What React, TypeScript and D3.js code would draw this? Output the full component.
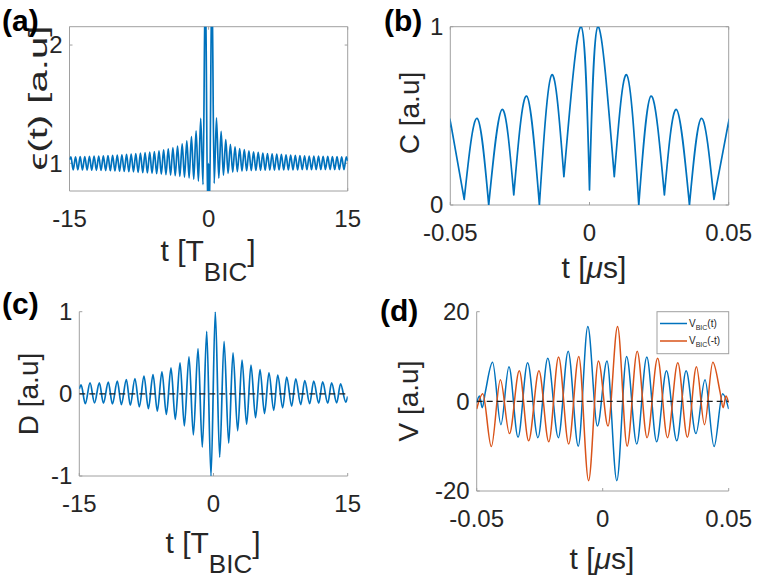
import React from "react";
import * as d3 from "d3";

type Pt = [number, number];

// ---------------------------------------------------------------------------
// data (peaks / troughs of each trace)

// (a) eps(t): alternating peaks and troughs, two spikes around t = 0
const epsilon: Pt[] = [
  [-15, 1.03],
  [-14.85, 1.055], [-14.6, 0.945], [-14.35, 1.055], [-14.1, 0.945],
  [-13.85, 1.056], [-13.6, 0.944], [-13.35, 1.057], [-13.1, 0.943],
  [-12.85, 1.058], [-12.6, 0.942], [-12.35, 1.06], [-12.1, 0.941],
  [-11.85, 1.061], [-11.6, 0.94], [-11.35, 1.063], [-11.1, 0.939],
  [-10.85, 1.065], [-10.6, 0.937], [-10.35, 1.067], [-10.1, 0.935],
  [-9.85, 1.07], [-9.6, 0.933], [-9.35, 1.072], [-9.1, 0.931],
  [-8.85, 1.075], [-8.6, 0.929], [-8.35, 1.078], [-8.1, 0.927],
  [-7.85, 1.082], [-7.6, 0.924], [-7.35, 1.086], [-7.1, 0.921],
  [-6.85, 1.09], [-6.6, 0.918], [-6.35, 1.095], [-6.1, 0.915],
  [-5.85, 1.1], [-5.6, 0.912], [-5.35, 1.106], [-5.1, 0.908],
  [-4.85, 1.113], [-4.6, 0.904], [-4.35, 1.122], [-4.1, 0.9],
  [-3.85, 1.132], [-3.6, 0.895], [-3.35, 1.145], [-3.1, 0.89],
  [-2.85, 1.165], [-2.6, 0.884], [-2.35, 1.19], [-2.1, 0.876],
  [-1.85, 1.225], [-1.6, 0.866], [-1.35, 1.275], [-1.1, 0.85],
  [-0.85, 1.38], [-0.6, 0.82],
  [-0.35, 2.6], [-0.1, 0.6], [0, 1.0], [0.1, 0.6], [0.35, 2.6],
  [0.6, 0.83], [0.85, 1.385], [1.1, 0.875], [1.35, 1.27],
  [1.6, 0.9], [1.85, 1.2], [2.1, 0.915], [2.35, 1.16],
  [2.6, 0.925], [2.85, 1.14], [3.1, 0.93], [3.35, 1.125],
  [3.6, 0.934], [3.85, 1.115], [4.1, 0.937], [4.35, 1.105],
  [4.6, 0.939], [4.85, 1.098], [5.1, 0.94], [5.35, 1.092],
  [5.6, 0.941], [5.85, 1.087], [6.1, 0.942], [6.35, 1.083],
  [6.6, 0.943], [6.85, 1.08], [7.1, 0.943], [7.35, 1.077],
  [7.6, 0.944], [7.85, 1.075], [8.1, 0.944], [8.35, 1.072],
  [8.6, 0.945], [8.85, 1.07], [9.1, 0.945], [9.35, 1.068],
  [9.6, 0.945], [9.85, 1.066], [10.1, 0.946], [10.35, 1.064],
  [10.6, 0.946], [10.85, 1.062], [11.1, 0.946], [11.35, 1.061],
  [11.6, 0.946], [11.85, 1.06], [12.1, 0.947], [12.35, 1.059],
  [12.6, 0.947], [12.85, 1.058], [13.1, 0.947], [13.35, 1.057],
  [13.6, 0.947], [13.85, 1.056], [14.1, 0.947], [14.35, 1.055],
  [14.6, 0.947], [14.85, 1.055],
  [15, 1.02],
];

// (b) C: lobe tops and the dips between them (ends of the range included in dips)
const cTops: Pt[] = [
  [-0.0497, 0.445], [-0.0404, 0.486], [-0.0314, 0.536], [-0.0226, 0.611],
  [-0.0136, 0.729], [-0.0030, 1.0], [0.0030, 1.0], [0.0134, 0.729],
  [0.0221, 0.611], [0.0312, 0.536], [0.0402, 0.486], [0.0497, 0.445],
];
const cDips: Pt[] = [
  [-0.05, 0.44], [-0.045, 0.032], [-0.0362, 0.0], [-0.0272, 0.056],
  [-0.018, 0.0], [-0.0092, 0.159], [0, 0.084], [0.0089, 0.159],
  [0.0177, 0.0], [0.0269, 0.056], [0.0359, 0.0], [0.0447, 0.032],
  [0.05, 0.44],
];

// (c) D
const dispD: Pt[] = [
  [-15, 0.06], [-14.8, 0.11], [-14.33, -0.12], [-13.8, 0.134], [-13.3, -0.11],
  [-12.76, 0.134], [-12.3, -0.114], [-11.76, 0.142], [-11.3, -0.122],
  [-10.75, 0.154], [-10.3, -0.13], [-9.74, 0.174], [-9.3, -0.138],
  [-8.78, 0.187], [-8.29, -0.158], [-7.77, 0.215], [-7.28, -0.18],
  [-6.76, 0.235], [-6.28, -0.21], [-5.76, 0.268], [-5.27, -0.25],
  [-4.75, 0.316], [-4.27, -0.31], [-3.74, 0.377], [-3.26, -0.39],
  [-2.74, 0.45], [-2.25, -0.5], [-1.73, 0.55], [-1.25, -0.65],
  [-0.76, 0.76], [-0.28, -1.0], [0.2, 1.0], [0.69, -0.77],
  [1.18, 0.64], [1.7, -0.6], [2.18, 0.5], [2.7, -0.45],
  [3.19, 0.41], [3.7, -0.37], [4.19, 0.35], [4.7, -0.29],
  [5.2, 0.296], [5.7, -0.24], [6.2, 0.256], [6.73, -0.2],
  [7.18, 0.227], [7.73, -0.17], [8.18, 0.203], [8.74, -0.15],
  [9.19, 0.183], [9.75, -0.13], [10.2, 0.162], [10.75, -0.12],
  [11.2, 0.154], [11.76, -0.114], [12.2, 0.146], [12.77, -0.114],
  [13.2, 0.134], [13.77, -0.11], [14.2, 0.122], [14.78, -0.1],
  [15, -0.03],
];

// (d) V_BIC(t); the second trace is the same record with time reversed
const vbic: Pt[] = [
  [-0.05, -0.3], [-0.0489, 1.2], [-0.0478, -1.4], [-0.0466, 2.0],
  [-0.0437, 8.7], [-0.0404, -5.2], [-0.0372, 7.7], [-0.0336, -8.0],
  [-0.0298, 8.6], [-0.0257, -8.1], [-0.0218, 9.6], [-0.0176, -8.1],
  [-0.0137, 11.2], [-0.0097, -10.0], [-0.0059, 16.7], [-0.0021, -5.5],
  [0.0017, 9.0], [0.0056, -17.7], [0.0095, 10.0], [0.0135, -9.5],
  [0.0175, 9.9], [0.0214, -9.0], [0.0253, 6.8], [0.0294, -8.8],
  [0.0331, 6.8], [0.037, -7.2], [0.0406, 4.8], [0.0442, -10.1],
  [0.0476, 1.7], [0.05, -1.7],
];
const vbicRev: Pt[] = vbic.map(([t, v]) => [-t, v] as Pt).reverse();

const tbicTicks = [-15, 0, 15];
const tbicTickLabels = ["-15", "0", "15"];
const usTicks = [-0.05, 0, 0.05];
const usTickLabels = ["-0.05", "0", "0.05"];
const epsTicks = [1, 2];
const epsTickLabels = ["1", "2"];
const cTicks = [0, 1];
const cTickLabels = ["0", "1"];
const dTicks = [-1, 0, 1];
const dTickLabels = ["-1", "0", "1"];
const vTicks = [-20, 0, 20];
const vTickLabels = ["-20", "0", "20"];
const legendArgs = ["(t)", "(-t)"];

// ---------------------------------------------------------------------------

const FONT = "'Liberation Sans', Arial, Helvetica, sans-serif";
const BLUE = "#0072BD";
const ORANGE = "#D95319";
const AXIS = "#a0a0a0";
const INK = "#262626";
const TICK_FS = 24;
const LABEL_FS = 30;

type Scale = d3.ScaleLinear<number, number>;

type PanelProps = {
  id: string;
  frame: {x0: number; x1: number; y0: number; y1: number};
  xDomain: [number, number];
  yDomain: [number, number];
  xTicks: number[];
  xTickLabels: string[];
  yTicks: number[];
  yTickLabels: string[];
  box: boolean;
  tag: string;
  tagPos: [number, number];
  xLabel: React.ReactNode;
  xLabelPos: [number, number];
  yLabel: React.ReactNode;
  yLabelPos: [number, number];
  draw: (x: Scale, y: Scale) => React.ReactNode;
  extra?: React.ReactNode;
};

function Panel(p: PanelProps) {
  const {x0, x1, y0, y1} = p.frame;
  const x = d3.scaleLinear().domain(p.xDomain).range([x0, x1]);
  const y = d3.scaleLinear().domain(p.yDomain).range([y1, y0]);
  const tk = 3;
  return (
    <g>
      <defs>
        <clipPath id={p.id}>
          <rect x={x0} y={y0} width={x1 - x0} height={y1 - y0}/>
        </clipPath>
      </defs>
      {/* axes */}
      <g stroke={AXIS} strokeWidth={1} fill="none">
        <line x1={x0} x2={x1} y1={y1} y2={y1}/>
        <line x1={x0} x2={x0} y1={y0} y2={y1}/>
        {p.box && <line x1={x0} x2={x1} y1={y0} y2={y0}/>}
        {p.box && <line x1={x1} x2={x1} y1={y0} y2={y1}/>}
        {p.xTicks.map(t => (
          <g key={"xt" + t}>
            <line x1={x(t)} x2={x(t)} y1={y1} y2={y1 - tk}/>
            {p.box && <line x1={x(t)} x2={x(t)} y1={y0} y2={y0 + tk}/>}
          </g>
        ))}
        {p.yTicks.map(t => (
          <g key={"yt" + t}>
            <line x1={x0} x2={x0 + tk} y1={y(t)} y2={y(t)}/>
            {p.box && <line x1={x1} x2={x1 - tk} y1={y(t)} y2={y(t)}/>}
          </g>
        ))}
      </g>
      {/* data */}
      <g clipPath={`url(#${p.id})`}>{p.draw(x, y)}</g>
      {/* tick labels */}
      <g fontFamily={FONT} fontSize={TICK_FS} fill={INK}>
        {p.xTicks.map((t, i) => (
          <text key={"xl" + t} x={x(t)} y={y1 + 36} textAnchor="middle">{p.xTickLabels[i]}</text>
        ))}
        {p.yTicks.map((t, i) => (
          <text key={"yl" + t} x={x0 - 7} y={y(t)} dy="0.35em" textAnchor="end">{p.yTickLabels[i]}</text>
        ))}
      </g>
      {/* axis labels */}
      <text x={p.xLabelPos[0]} y={p.xLabelPos[1]} textAnchor="middle"
        fontFamily={FONT} fontSize={LABEL_FS} fill={INK}>{p.xLabel}</text>
      <g transform={`translate(${p.yLabelPos[0]},${p.yLabelPos[1]}) rotate(-90)`}>
        {p.yLabel}
      </g>
      <text x={p.tagPos[0]} y={p.tagPos[1]} fontFamily={FONT} fontSize={30}
        fontWeight="bold" fill="#000">{p.tag}</text>
      {p.extra}
    </g>
  );
}

const tbicLabel = (
  <>t [T<tspan fontSize={26} dy={20}>BIC</tspan><tspan dy={-20}>]</tspan></>
);
const usLabel = (
  <>t [<tspan fontStyle="italic">μ</tspan>s]</>
);
const yText = (s: string, extra: any = {}) => (
  <text x={0} y={0} dy="0.35em" textAnchor="middle" fontFamily={FONT}
    fontSize={28} fill={INK} {...extra}>{s}</text>
);

function tracePath(pts: Pt[], x: Scale, y: Scale, curve: d3.CurveFactory) {
  return d3.line<Pt>().x(d => x(d[0])).y(d => y(d[1])).curve(curve)(pts) || "";
}

export default function App() {
  return (
    <svg width={762} height={582} viewBox="0 0 762 582"
      style={{position: "absolute", left: 0, top: 0, background: "#fff"}}>
      <rect x={0} y={0} width={762} height={582} fill="#fff"/>

      {/* (a) */}
      <Panel
        id="clip-a"
        frame={{x0: 69.5, x1: 347.7, y0: 26.7, y1: 191}}
        xDomain={[-15, 15]} yDomain={[0.766, 2.155]}
        xTicks={tbicTicks} xTickLabels={tbicTickLabels}
        yTicks={epsTicks} yTickLabels={epsTickLabels}
        box={true}
        tag="(a)" tagPos={[2, 31]}
        xLabel={tbicLabel} xLabelPos={[208, 261]}
        yLabel={yText("ϵ(t) [a.u]", {textLength: 145, lengthAdjust: "spacingAndGlyphs", fontSize: 26})}
        yLabelPos={[38, 98]}
        draw={(x, y) => (
          <path d={tracePath(epsilon, x, y, d3.curveMonotoneX)} fill="none"
            stroke={BLUE} strokeWidth={1.7}/>
        )}
      />

      {/* (b) */}
      <Panel
        id="clip-b"
        frame={{x0: 450.3, x1: 728.7, y0: 26.7, y1: 205}}
        xDomain={[-0.05, 0.05]} yDomain={[0, 1]}
        xTicks={usTicks} xTickLabels={usTickLabels}
        yTicks={cTicks} yTickLabels={cTickLabels}
        box={true}
        tag="(b)" tagPos={[384, 31]}
        xLabel={usLabel} xLabelPos={[594, 278]}
        yLabel={yText("C [a.u]")}
        yLabelPos={[409, 113]}
        draw={(x, y) => {
          const lobe = d3.line<Pt>().x(d => x(d[0])).y(d => y(d[1])).curve(d3.curveNatural);
          const d = cTops.map((top, i) => lobe([cDips[i], top, cDips[i + 1]])).join("");
          return <path d={d} fill="none" stroke={BLUE} strokeWidth={1.7} strokeLinecap="round"/>;
        }}
      />

      {/* (c) */}
      <Panel
        id="clip-c"
        frame={{x0: 79.3, x1: 347.7, y0: 311.7, y1: 476}}
        xDomain={[-15, 15]} yDomain={[-1, 1]}
        xTicks={tbicTicks} xTickLabels={tbicTickLabels}
        yTicks={dTicks} yTickLabels={dTickLabels}
        box={false}
        tag="(c)" tagPos={[2, 314]}
        xLabel={tbicLabel} xLabelPos={[213, 553]}
        yLabel={yText("D [a.u]")}
        yLabelPos={[28, 394]}
        draw={(x, y) => (
          <g>
            <path d={tracePath(dispD, x, y, d3.curveMonotoneX)} fill="none"
              stroke={BLUE} strokeWidth={1.7}/>
            <line x1={x(-15)} x2={x(15)} y1={y(0)} y2={y(0)} stroke="#1a1a1a"
              strokeWidth={1.4} strokeDasharray="6 4"/>
          </g>
        )}
      />

      {/* (d) */}
      <Panel
        id="clip-d"
        frame={{x0: 476.7, x1: 728.7, y0: 311.7, y1: 491}}
        xDomain={[-0.05, 0.05]} yDomain={[-20, 20]}
        xTicks={usTicks} xTickLabels={usTickLabels}
        yTicks={vTicks} yTickLabels={vTickLabels}
        box={false}
        tag="(d)" tagPos={[380, 321]}
        xLabel={usLabel} xLabelPos={[602, 569]}
        yLabel={yText("V [a.u]")}
        yLabelPos={[408, 401]}
        draw={(x, y) => (
          <g>
            <path d={tracePath(vbic, x, y, d3.curveMonotoneX)} fill="none"
              stroke={BLUE} strokeWidth={1.5}/>
            <path d={tracePath(vbicRev, x, y, d3.curveMonotoneX)} fill="none"
              stroke={ORANGE} strokeWidth={1.5}/>
            <line x1={x(-0.05)} x2={x(0.05)} y1={y(0)} y2={y(0)} stroke="#1a1a1a"
              strokeWidth={1.4} strokeDasharray="6 4"/>
          </g>
        )}
        extra={
          <g fontFamily={FONT} fill={INK}>
            <rect x={657} y={311.7} width={71.7} height={42} fill="#fff" stroke={AXIS}/>
            {legendArgs.map((arg, i) => (
              <g key={arg} transform={`translate(660,${323.5 + i * 17.5})`}>
                <line x1={0} x2={27} y1={0} y2={0} stroke={i === 0 ? BLUE : ORANGE} strokeWidth={1.5}/>
                <text x={29} y={0} dy="0.3em" fontSize={10}>
                  V<tspan fontSize={7} dy={3}>BIC</tspan><tspan dy={-3}>{arg}</tspan>
                </text>
              </g>
            ))}
          </g>
        }
      />
    </svg>
  );
}
